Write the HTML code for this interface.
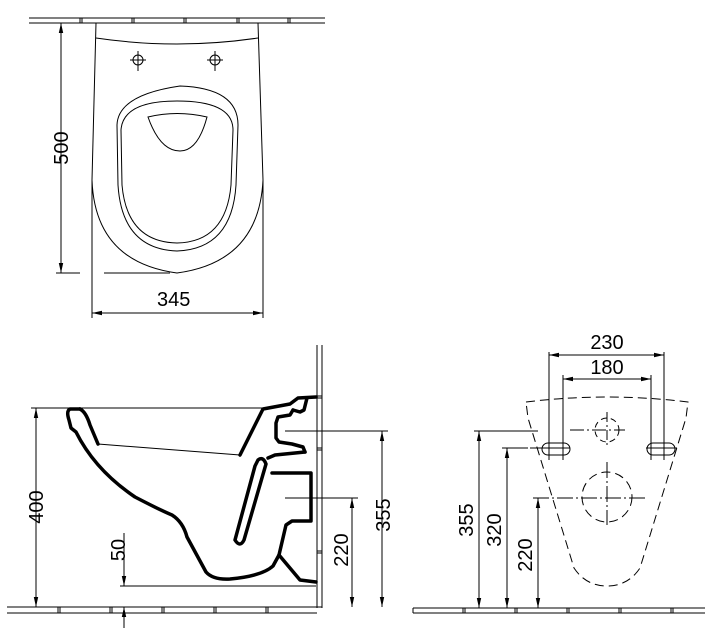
<!DOCTYPE html>
<html><head><meta charset="utf-8"><style>
html,body{margin:0;padding:0;background:#fff;}
svg{display:block;}
text{font-family:"Liberation Sans",sans-serif;font-size:20px;fill:#000;}
</style></head><body>
<svg width="716" height="628" viewBox="0 0 716 628" xmlns="http://www.w3.org/2000/svg">
<defs>
<marker id="a" markerWidth="10" markerHeight="6" refX="10" refY="3" orient="auto-start-reverse" markerUnits="userSpaceOnUse">
<path d="M0,0.8 L10,3 L0,5.2 Z" fill="#000"/></marker>
</defs>
<g fill="none" stroke="#000" stroke-width="1">
<!-- TOP VIEW -->
<line x1="29" y1="18" x2="325" y2="18"/>
<line x1="29" y1="23" x2="325" y2="23"/>
<g stroke-width="1">
<line x1="80" y1="18" x2="80" y2="23"/><line x1="82" y1="18" x2="82" y2="23"/>
<line x1="132" y1="18" x2="132" y2="23"/><line x1="134" y1="18" x2="134" y2="23"/>
<line x1="184" y1="18" x2="184" y2="23"/><line x1="186" y1="18" x2="186" y2="23"/>
<line x1="237" y1="18" x2="237" y2="23"/><line x1="239" y1="18" x2="239" y2="23"/>
<line x1="288" y1="18" x2="288" y2="23"/><line x1="290" y1="18" x2="290" y2="23"/>
</g>
<path d="M96,23 L92,180 Q95,262 177,273 Q259,262 263,180 L258,23"/>
<path d="M96,38 Q177,50 258,38"/>
<circle cx="138" cy="60" r="5"/><line x1="130" y1="60" x2="146" y2="60"/><line x1="138" y1="51" x2="138" y2="71"/>
<circle cx="215" cy="60" r="5"/><line x1="207" y1="60" x2="223" y2="60"/><line x1="215" y1="51" x2="215" y2="71"/>
<path d="M180,86 Q238,88 238,125 L236,185 Q232,249 177,251 Q122,249 118,185 L117,125 Q118,95 180,86 Z"/>
<path d="M177,101 Q233,101 233,130 L231,185 Q226,242 177,243 Q127,242 122,185 L121,130 Q123,101 177,101 Z"/>
<path d="M148,117 Q177,110 207,117 Q198,151 180,151 Q160,151 148,117 Z"/>
<line x1="56" y1="273" x2="80" y2="273"/><line x1="104" y1="273" x2="170" y2="273"/>
<line x1="61" y1="23" x2="61" y2="273" marker-start="url(#a)" marker-end="url(#a)"/>
<line x1="92" y1="180" x2="92" y2="318"/><line x1="263" y1="180" x2="263" y2="318"/>
<line x1="92" y1="313" x2="263" y2="313" marker-start="url(#a)" marker-end="url(#a)"/>

<!-- SIDE VIEW -->
<line x1="317" y1="345" x2="317" y2="608"/><line x1="322" y1="345" x2="322" y2="608"/>
<line x1="317" y1="396" x2="322" y2="396"/><line x1="317" y1="398" x2="322" y2="398"/>
<line x1="317" y1="448" x2="322" y2="448"/><line x1="317" y1="450" x2="322" y2="450"/>
<line x1="317" y1="551" x2="322" y2="551"/><line x1="317" y1="553" x2="322" y2="553"/>
<line x1="7" y1="607" x2="322" y2="607"/><line x1="7" y1="613" x2="317" y2="613"/>
<line x1="58" y1="607" x2="58" y2="613"/><line x1="60" y1="607" x2="60" y2="613"/>
<line x1="110" y1="607" x2="110" y2="613"/><line x1="112" y1="607" x2="112" y2="613"/>
<line x1="162" y1="607" x2="162" y2="613"/><line x1="164" y1="607" x2="164" y2="613"/>
<line x1="214" y1="607" x2="214" y2="613"/><line x1="216" y1="607" x2="216" y2="613"/>
<line x1="266" y1="607" x2="266" y2="613"/><line x1="268" y1="607" x2="268" y2="613"/>
<line x1="31" y1="408" x2="265" y2="408"/>
<line x1="98" y1="444" x2="240" y2="455"/>
<g stroke-width="3.5" stroke-linejoin="round" stroke-linecap="round">
<path d="M80,409 L70,409 Q66,411 69,420 L71,428 L76,432 Q95,470 135,497 Q160,510 172,515 Q183,522 187,537 L206,572 Q213,580 230,579 Q262,576 273,566 L279,555 L286,525 L292,521 L311,521 L311,473 L272,473"/>
<path d="M80,409 Q86,412 90,425 L98,444"/>
<path d="M240,455 L263,409 L290,404 L298,398 L316,397"/>
<path d="M293,410 L300,412 L304,410 L307,398"/>
<path d="M293,410 L290,415 L278,417 L276,423 L276,438 L279,442 L292,444 L303,447 L305,452"/>
<path d="M305,452 L275,455 L268,458"/>
<path d="M279,555 L300,580 L316,582"/>
<path d="M258,460 Q263,456 266,464 L244,540 Q240,548 235,540 L255,466 Z"/>
</g>
<line x1="36" y1="408" x2="36" y2="607" marker-start="url(#a)" marker-end="url(#a)"/>
<line x1="120" y1="586" x2="316" y2="586"/>
<line x1="124" y1="533" x2="124" y2="586" marker-end="url(#a)"/>
<line x1="124" y1="628" x2="124" y2="607" marker-end="url(#a)"/>
<line x1="285" y1="431" x2="388" y2="431"/>
<line x1="382" y1="431" x2="382" y2="607" marker-start="url(#a)" marker-end="url(#a)"/>
<line x1="285" y1="498" x2="358" y2="498"/>
<line x1="352" y1="498" x2="352" y2="607" marker-start="url(#a)" marker-end="url(#a)"/>

<!-- BACK VIEW -->
<line x1="413" y1="608" x2="705" y2="608"/><line x1="413" y1="613" x2="705" y2="613"/>
<line x1="413" y1="608" x2="413" y2="613"/>
<line x1="463" y1="608" x2="463" y2="613"/><line x1="465" y1="608" x2="465" y2="613"/>
<line x1="515" y1="608" x2="515" y2="613"/><line x1="517" y1="608" x2="517" y2="613"/>
<line x1="567" y1="608" x2="567" y2="613"/><line x1="569" y1="608" x2="569" y2="613"/>
<line x1="619" y1="608" x2="619" y2="613"/><line x1="621" y1="608" x2="621" y2="613"/>
<line x1="671" y1="608" x2="671" y2="613"/><line x1="673" y1="608" x2="673" y2="613"/>
<path stroke-dasharray="9,5" d="M526,402 Q607,392 688,402 L686,418 L640,568 Q628,586 607,586 Q586,586 574,568 L528,418 Z"/>
<circle cx="607" cy="430" r="12" stroke-dasharray="6,4"/>
<circle cx="607" cy="497" r="25" stroke-dasharray="9,5"/>
<line x1="570" y1="430" x2="625" y2="430" stroke-dasharray="14,3,2,3"/>
<line x1="607" y1="412" x2="607" y2="447" stroke-dasharray="10,3,2,3"/>
<line x1="533" y1="498" x2="645" y2="498" stroke-dasharray="16,3,2,3"/>
<line x1="607" y1="462" x2="607" y2="525" stroke-dasharray="16,3,2,3"/>
<rect x="542" y="443" width="28" height="12" rx="6"/>
<rect x="647" y="443" width="28" height="12" rx="6"/>
<line x1="530" y1="448" x2="570" y2="448"/><line x1="646" y1="448" x2="677" y2="448"/>
<line x1="549" y1="352" x2="549" y2="460"/><line x1="664" y1="352" x2="664" y2="460"/>
<line x1="563" y1="375" x2="563" y2="460"/><line x1="651" y1="375" x2="651" y2="460"/>
<line x1="549" y1="355" x2="664" y2="355" marker-start="url(#a)" marker-end="url(#a)"/>
<line x1="563" y1="379" x2="651" y2="379" marker-start="url(#a)" marker-end="url(#a)"/>
<line x1="474" y1="431" x2="538" y2="431"/>
<line x1="479" y1="431" x2="479" y2="608" marker-start="url(#a)" marker-end="url(#a)"/>
<line x1="502" y1="448" x2="528" y2="448"/>
<line x1="507" y1="448" x2="507" y2="608" marker-start="url(#a)" marker-end="url(#a)"/>
<line x1="538" y1="498" x2="538" y2="608" marker-start="url(#a)" marker-end="url(#a)"/>
</g>
<text x="157" y="306">345</text>
<text transform="translate(68,148) rotate(-90)" text-anchor="middle">500</text>
<text transform="translate(43,507) rotate(-90)" text-anchor="middle">400</text>
<text transform="translate(125,550) rotate(-90)" text-anchor="middle">50</text>
<text transform="translate(390,515) rotate(-90)" text-anchor="middle">355</text>
<text transform="translate(348,550) rotate(-90)" text-anchor="middle">220</text>
<text x="607" y="349" text-anchor="middle">230</text>
<text x="607" y="374" text-anchor="middle">180</text>
<text transform="translate(473,520) rotate(-90)" text-anchor="middle">355</text>
<text transform="translate(501,530) rotate(-90)" text-anchor="middle">320</text>
<text transform="translate(532,555) rotate(-90)" text-anchor="middle">220</text>
</svg>
</body></html>
